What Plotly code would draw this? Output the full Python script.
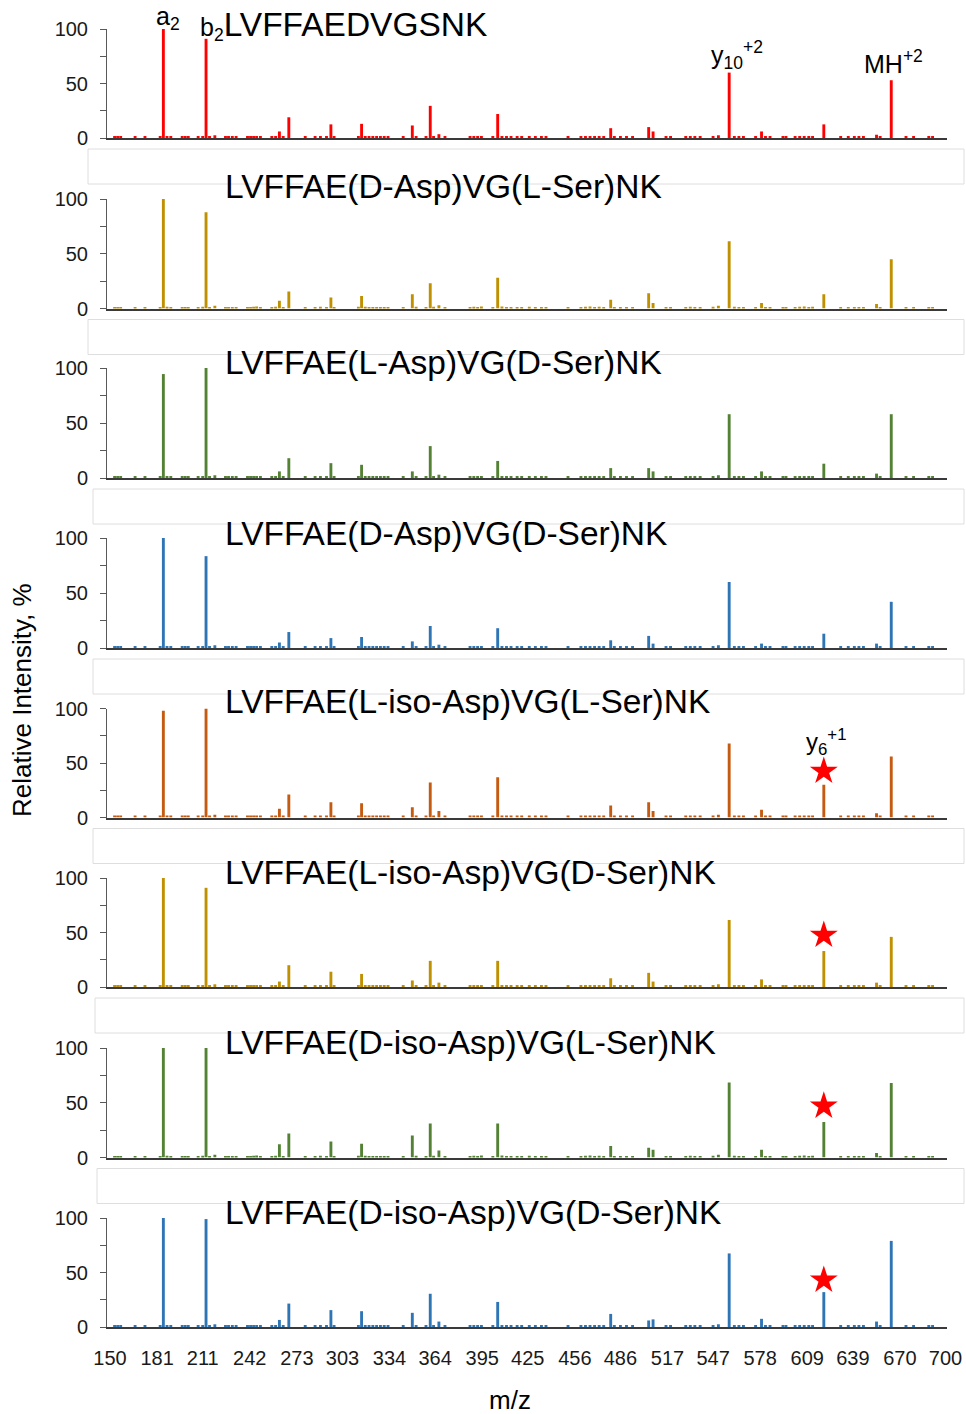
import plotly.graph_objects as go
from plotly.subplots import make_subplots

W, H = 966, 1414
FONT = "Arial, Liberation Sans, sans-serif"

# ---- data -------------------------------------------------------------
titles = [
    "LVFFAEDVGSNK",
    "LVFFAE(D-Asp)VG(L-Ser)NK",
    "LVFFAE(L-Asp)VG(D-Ser)NK",
    "LVFFAE(D-Asp)VG(D-Ser)NK",
    "LVFFAE(L-iso-Asp)VG(L-Ser)NK",
    "LVFFAE(L-iso-Asp)VG(D-Ser)NK",
    "LVFFAE(D-iso-Asp)VG(L-Ser)NK",
    "LVFFAE(D-iso-Asp)VG(D-Ser)NK",
]
colors = ["#FF0000", "#BF9000", "#548235", "#2E75B6",
          "#C55A11", "#BF9000", "#548235", "#2E75B6"]

# main fragment ions (m/z) shared by all spectra
mz_major = [185.1, 213.2, 261.5, 267.7, 295.4, 315.6, 349.0, 360.8, 366.5,
            405.2, 479.6, 504.6, 507.5, 557.6, 578.9, 619.9, 654.6, 664.3]

# relative intensities (%) of the main ions, one list per spectrum
int_p1 = [100, 91, 6, 19, 12.5, 13, 11.5, 29.5, 3.5, 22, 9, 10, 6, 60, 6, 12.5, 3, 53]
int_p2 = [100, 88, 7, 15.5, 10, 11.5, 13, 23, 3, 28, 8, 14, 5, 61.5, 5, 13, 4, 45]
int_p3 = [94.5, 100, 6, 18, 13.5, 12, 6, 29, 3, 15.5, 9, 9, 6, 58, 6, 13, 4, 58]
int_p4 = [100, 83.5, 5, 14.5, 9, 10, 6, 20, 3, 18, 7, 11, 4, 60, 4, 13, 4, 42]
int_p5 = [98, 100, 8, 21, 14, 13, 9.5, 32, 6, 37, 11, 14, 6, 68, 7, 30, 4, 56]
int_p6 = [100, 91, 5, 20, 14, 12, 6, 24, 4, 24, 8, 13, 5, 61.5, 7, 33, 4, 46]
int_p7 = [100, 100, 12, 22, 14.5, 12.5, 20, 31, 6.5, 31, 10.5, 9, 7, 68.5, 7, 32.5, 4, 68]
int_p8 = [100, 99, 6.5, 21.5, 15.5, 14.5, 13, 30.5, 5, 23, 12, 6, 7, 67.5, 7.5, 32, 5, 79]
intensities = [int_p1, int_p2, int_p3, int_p4, int_p5, int_p6, int_p7, int_p8]

# low-level background peaks (m/z, %)
mz_minor = [153, 155, 157, 166.5, 173, 183, 187.5, 190, 197.5, 199.5,
            201.5, 208, 211, 215.5, 219, 226, 228, 230.5, 233, 240.5,
            242.5, 244.5, 246.5, 249, 256.5, 259, 264, 278.5, 285, 288.5,
            292.5, 297.5, 313.5, 318, 320.5, 323, 325.5, 328, 330.5, 333,
            343, 351.5, 358, 363, 370.5, 387, 389.5, 392, 394.5, 402,
            408, 411, 414, 418, 421, 426, 430, 434, 437, 451.5,
            460, 463, 466, 469, 472, 475, 482, 486, 490, 494,
            516, 519, 529, 532, 535, 538.5, 547, 550.5, 561, 564,
            567, 575, 581.5, 584.5, 593, 595, 601, 604, 607, 610,
            612.5, 631, 636, 640, 643, 646, 657, 674, 679, 689, 691.5]
int_minor = [1.2, 1.0, 1.2, 1.0, 1.2, 1.0, 1.5, 1.2, 1.0, 1.3,
             1.0, 1.2, 1.5, 1.2, 2.5, 1.2, 1.0, 1.2, 1.0, 1.0,
             1.2, 1.5, 1.8, 1.2, 1.0, 1.5, 1.0, 1.0, 1.2, 1.5,
             1.0, 1.2, 1.5, 1.5, 1.2, 1.0, 1.2, 1.0, 1.2, 1.0,
             1.2, 1.5, 1.2, 1.5, 1.2, 1.0, 1.5, 1.2, 1.8, 1.0,
             1.8, 1.2, 1.0, 1.2, 1.0, 1.5, 1.0, 1.2, 1.0, 1.0,
             1.2, 1.5, 1.8, 1.2, 1.5, 1.2, 1.2, 1.0, 1.2, 1.0,
             1.0, 1.0, 1.0, 1.5, 1.2, 1.0, 1.5, 2.5, 1.5, 1.2,
             1.0, 1.2, 1.2, 1.0, 1.0, 1.2, 1.2, 1.5, 1.8, 1.2,
             1.5, 1.0, 1.0, 1.2, 1.0, 1.2, 1.2, 1.0, 1.0, 1.2, 1.0]

# y6+1 diagnostic ion marker heights (%) for the iso-Asp spectra (panels 5-8)
star_panels = [5, 6, 7, 8]
star_y = [42.5, 47.5, 47, 43]

x_tickvals = [150, 181, 211, 242, 273, 303, 334, 364, 395, 425,
              456, 486, 517, 547, 578, 609, 639, 670, 700]
x_ticktext = [str(v) for v in x_tickvals]

# ---- layout geometry (pixels) -----------------------------------------
top100 = [29, 199, 368, 538, 708.5, 878, 1048, 1218]
zero0 = [138, 308.5, 478, 648, 817.5, 987, 1157.5, 1327]
title_y = [25, 186, 362, 533, 702, 872, 1042, 1212]
X_LEFT, X_RIGHT = 107, 947


def py(p):
    return 1 - p / H


def px(p):
    return p / W


fig = make_subplots(rows=8, cols=1)

for i in range(8):
    r = i + 1
    xs = mz_minor + mz_major
    ys = int_minor + intensities[i]
    fig.add_trace(go.Bar(x=xs, y=ys, width=1.9, marker_color=colors[i],
                         marker_line_width=0, hoverinfo="x+y"), row=r, col=1)
    fig.update_yaxes(domain=[py(zero0[i]), py(top100[i])], range=[0, 100],
                     automargin=False,
                     showline=True, linecolor="#595959", linewidth=1,
                     showgrid=False, zeroline=False, ticks="outside",
                     ticklen=6, tickcolor="#595959",
                     tickvals=[0, 25, 50, 75, 100],
                     ticktext=["0", "", "50", "", "100"],
                     ticklabelstandoff=8,
                     tickfont=dict(family=FONT, size=20, color="#1a1a1a"),
                     fixedrange=True, row=r, col=1)
    xa = dict(domain=[px(X_LEFT), px(X_RIGHT)], range=[148, 701],
              automargin=False,
              showline=True, linecolor="#3a3a3a", linewidth=1.5,
              showgrid=False, zeroline=False, ticks="", fixedrange=True)
    if r == 8:
        xa.update(tickvals=x_tickvals, ticktext=x_ticktext,
                  ticklabelstandoff=12,
                  tickfont=dict(family=FONT, size=20, color="#1a1a1a"))
    else:
        xa.update(showticklabels=False)
    fig.update_xaxes(row=r, col=1, **xa)

# diagnostic-ion stars
for p, sy in zip(star_panels, star_y):
    fig.add_trace(go.Scatter(x=[mz_major[15]], y=[sy], mode="markers",
                             marker=dict(symbol="star", size=21, color="#FF0000",
                                         line=dict(width=0)),
                             hoverinfo="skip"), row=p, col=1)

annotations = []
# spectrum titles
for i, t in enumerate(titles):
    if i == 0:
        text = "<span style='font-size:25px'>b<sub>2</sub></span>" + t
        x0 = 198
    else:
        text = t
        x0 = 223
    annotations.append(dict(text=text, xref="paper", yref="paper",
                            x=px(x0), y=py(title_y[i]), xanchor="left",
                            yanchor="middle", showarrow=False,
                            font=dict(family=FONT, size=33.5, color="#000000")))

# ion labels
ion_labels = [
    ("a<sub>2</sub>", "x", mz_major[0] + 3, 18, 25),
    ("y<sub>10</sub><sup>+2</sup>", "x", mz_major[13] + 5, 55, 25),
    ("MH<sup>+2</sup>", "x", mz_major[17] + 1.5, 62, 25),
    ("y<sub>6</sub><sup>+1</sup>", "x5", mz_major[15] + 1.5, 742, 24),
]
for text, xr, xv, yp, fs in ion_labels:
    annotations.append(dict(text=text, xref=xr, yref="paper", x=xv, y=py(yp),
                            xanchor="center", yanchor="middle", showarrow=False,
                            font=dict(family=FONT, size=fs, color="#000000")))

# axis titles
annotations.append(dict(text="Relative Intensity, %", xref="paper", yref="paper",
                        x=px(22), y=py(700), textangle=-90, showarrow=False,
                        xanchor="center", yanchor="middle",
                        font=dict(family=FONT, size=26, color="#000000")))
annotations.append(dict(text="m/z", xref="paper", yref="paper",
                        x=px(510), y=py(1400), showarrow=False,
                        xanchor="center", yanchor="middle",
                        font=dict(family=FONT, size=26, color="#000000")))

# faint chart-area frames between spectra
frame_left = [88, 88, 93, 93, 93, 95, 97]
shapes = []
for k in range(7):
    shapes.append(dict(type="rect", xref="paper", yref="paper",
                       x0=px(frame_left[k]), x1=px(964),
                       y0=py(zero0[k] + 46), y1=py(zero0[k] + 11),
                       line=dict(color="#DEDEDE", width=1), fillcolor="rgba(0,0,0,0)",
                       layer="below"))

fig.update_layout(width=W, height=H, margin=dict(l=0, r=0, t=0, b=0),
                  paper_bgcolor="white", plot_bgcolor="white",
                  showlegend=False, barmode="overlay",
                  annotations=annotations, shapes=shapes,
                  font=dict(family=FONT))

fig.write_html("out.html")
